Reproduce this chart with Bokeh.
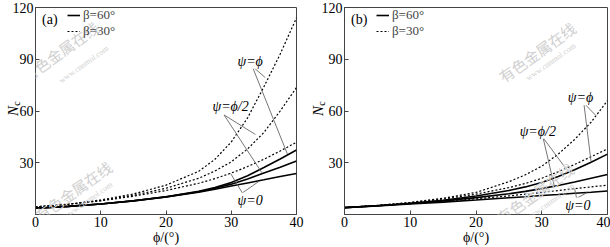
import math
from bokeh.plotting import figure
from bokeh.models import Range1d, Label, Legend, LegendItem, FixedTicker, LinearAxis
from bokeh.layouts import row
from bokeh.embed import file_html
from bokeh.resources import INLINE

# ---------------- data ----------------
phi = [0, 5, 10, 15, 20, 25, 27.5, 30, 32.5, 35, 37.5, 40]

# panel (a)
a_solid_psi0 = [3.6, 4.7, 6.1, 7.9, 10.1, 12.9, 14.6, 16.5, 18.3, 20.1, 22.0, 23.8]
a_solid_psihalf = [3.6, 4.7, 6.1, 7.9, 10.2, 13.2, 15.2, 17.6, 20.6, 24.0, 27.4, 31.0]
a_solid_psiphi = [3.6, 4.7, 6.1, 8.0, 10.3, 13.4, 15.6, 18.5, 22.5, 27.2, 32.2, 37.4]
a_dot_psi0 = [4.4, 5.9, 7.9, 10.6, 13.9, 18.1, 20.8, 24.0, 27.8, 32.0, 36.8, 41.9]
a_dot_psihalf = [4.4, 5.9, 8.1, 11.1, 15.2, 21.0, 25.2, 30.5, 38.0, 47.5, 60.0, 73.6]
a_dot_psiphi = [4.4, 6.0, 8.4, 11.9, 17.0, 25.0, 32.0, 42.0, 56.0, 74.0, 93.0, 114.0]

# panel (b)
b_solid_psi0 = [4.0, 5.0, 6.1, 7.2, 8.4, 9.7, 10.3, 11.0, 11.6, 12.3, 12.9, 13.6]
b_solid_psihalf = [4.0, 5.1, 6.4, 7.9, 9.8, 12.0, 13.4, 15.0, 16.8, 18.8, 21.0, 23.2]
b_solid_psiphi = [4.0, 5.1, 6.5, 8.3, 10.7, 13.9, 16.0, 18.6, 22.0, 26.0, 30.3, 35.0]
b_dot_psi0 = [4.0, 5.1, 6.3, 7.6, 9.1, 10.8, 11.8, 12.8, 13.9, 15.0, 16.0, 17.0]
b_dot_psihalf = [4.0, 5.2, 6.8, 8.9, 11.8, 15.6, 18.0, 21.0, 24.8, 29.0, 33.5, 38.0]
b_dot_psiphi = [4.0, 5.3, 7.0, 9.4, 12.8, 19.0, 23.0, 28.0, 35.0, 43.5, 53.5, 66.0]

x_ticks = [0, 10, 20, 30, 40]
y_ticks = [0, 30, 60, 90, 120]
legend_labels = ["β=60°", "β=30°"]
curve_labels = ["ψ=ϕ", "ψ=ϕ/2", "ψ=0"]
x_title = "ϕ/(°)"
y_title_main = "N"
y_title_sub = "c"

# annotation anchors (label position, leader start, leader ends)
a_annot = [
    ((32.9, 88.9), (33.2, 86.0), [(35.2, 79.4), (38.6, 35.1)]),
    ((29.9, 62.8), (28.9, 57.7), [(33.7, 46.4), (34.7, 24.2)]),
    ((32.9, 8.2), (31.7, 12.5), [(29.9, 23.8), (34.2, 19.1)]),
]
b_annot = [
    ((35.9, 67.7), (36.4, 64.6), [(38.2, 57.5), (37.5, 30.6)]),
    ((29.4, 48.2), (30.2, 44.5), [(33.6, 27.0), (31.9, 16.6)]),
    ((35.5, 5.5), (35.3, 9.4), [(35.0, 15.0), (36.9, 12.7)]),
]

SERIF = "'Liberation Serif', 'Times New Roman', serif"
CJK = "'Noto Sans CJK SC'"
NBSP = "\u00a0"


def make_panel(tag, solids, dots, annots, marks, left, right, sub_standoff):
    p = figure(width=305, height=247, output_backend="svg", toolbar_location=None,
               x_range=Range1d(0, 40), y_range=Range1d(0, 120),
               min_border_left=left, min_border_right=right,
               min_border_top=7, min_border_bottom=30)
    p.grid.visible = False
    p.outline_line_color = "#444444"
    p.outline_line_width = 1
    p.background_fill_color = "white"
    p.border_fill_color = "white"

    for ax in (p.xaxis[0], p.yaxis[0]):
        ax.axis_line_color = "#444444"
        ax.major_tick_line_color = "#444444"
        ax.major_tick_in = 4
        ax.major_tick_out = 0
        ax.minor_tick_line_color = None
        ax.major_label_text_font = SERIF
        ax.major_label_text_font_size = "14px"
        ax.major_label_text_color = "black"
        ax.major_label_standoff = 2
    p.xaxis.ticker = FixedTicker(ticks=x_ticks)
    p.yaxis.ticker = FixedTicker(ticks=y_ticks)
    p.yaxis.major_label_overrides = {0: ""}
    p.xaxis.axis_label = x_title
    p.xaxis.axis_label_text_font = SERIF
    p.xaxis.axis_label_text_font_style = "normal"
    p.xaxis.axis_label_text_font_size = "14px"
    p.xaxis.axis_label_text_color = "black"
    p.xaxis.axis_label_standoff = 0

    # subscript "c" carried by the tick axis, main "N" by an outer bare axis
    p.yaxis.axis_label = NBSP * 6 + y_title_sub
    p.yaxis.axis_label_text_font = SERIF
    p.yaxis.axis_label_text_font_style = "normal"
    p.yaxis.axis_label_text_font_size = "10px"
    p.yaxis.axis_label_text_color = "black"
    p.yaxis.axis_label_standoff = sub_standoff
    ax2 = LinearAxis(ticker=FixedTicker(ticks=[]), axis_label=y_title_main,
                     axis_line_color=None, major_tick_line_color=None,
                     minor_tick_line_color=None, major_tick_out=0, major_tick_in=0,
                     major_label_standoff=0, major_label_text_font_size="0px",
                     axis_label_standoff=-13, axis_label_text_font=SERIF,
                     axis_label_text_font_style="italic", axis_label_text_font_size="15px",
                     axis_label_text_color="black")
    p.add_layout(ax2, "left")

    # watermarks
    for (mx, my, txt, size) in marks:
        p.add_layout(Label(x=mx, y=my, text=txt, angle=0.62, text_align="center",
                           text_baseline="middle", text_font=CJK if size > 10 else SERIF,
                           text_font_size=f"{size}px", text_color="#d0d0d0"))

    solid_r = []
    for ys in solids:
        solid_r.append(p.line(phi, ys, line_color="black", line_width=1.6))
    dot_r = []
    for ys in dots:
        dot_r.append(p.line(phi, ys, line_color="black", line_width=1.2, line_dash="2 2"))

    # leaders + labels
    for (txt, (lab, start, ends)) in zip(curve_labels, annots):
        for e in ends:
            p.segment(x0=[start[0]], y0=[start[1]], x1=[e[0]], y1=[e[1]],
                      line_color="#666666", line_width=0.9)
        p.add_layout(Label(x=lab[0], y=lab[1], text=txt, text_align="center",
                           text_baseline="middle", text_font=SERIF,
                           text_font_style="italic", text_font_size="14px",
                           text_color="black", background_fill_color="white"))

    legend = Legend(items=[LegendItem(label=legend_labels[0], renderers=[solid_r[0]]),
                           LegendItem(label=legend_labels[1], renderers=[dot_r[0]])],
                    location=(32, 175), padding=0, spacing=0, margin=0,
                    glyph_width=13, glyph_height=14, label_height=14, label_width=45,
                    label_standoff=3, label_text_font=SERIF,
                    label_text_font_size="13px", background_fill_alpha=0,
                    border_line_color=None)
    p.add_layout(legend)

    p.add_layout(Label(x=1.0, y=113.0, text=tag, text_align="left", text_baseline="middle",
                       text_font=SERIF, text_font_size="14px", text_color="black"))
    return p


a_marks = [(3.8, 94.5, "有色金属在线", 15), (7.4, 87.0, "www.cnnmol.com", 8),
           (5.8, 13.6, "有色金属在线", 15), (8.0, 8.0, "www.cnnmol.com", 8)]
b_marks = [(29.3, 94.1, "有色金属在线", 15), (31.4, 88.5, "www.cnnmol.com", 8),
           (29.0, 12.5, "有色金属在线", 15), (31.2, 7.0, "www.cnnmol.com", 8)]

pa = make_panel("(a)", [a_solid_psi0, a_solid_psihalf, a_solid_psiphi],
                [a_dot_psi0, a_dot_psihalf, a_dot_psiphi], a_annot, a_marks, 35, 9, -12)
pb = make_panel("(b)", [b_solid_psi0, b_solid_psihalf, b_solid_psiphi],
                [b_dot_psi0, b_dot_psihalf, b_dot_psiphi], b_annot, b_marks, 39, 3, -8)

layout = row(pa, pb)
open("out.html", "w").write(file_html(layout, INLINE))
